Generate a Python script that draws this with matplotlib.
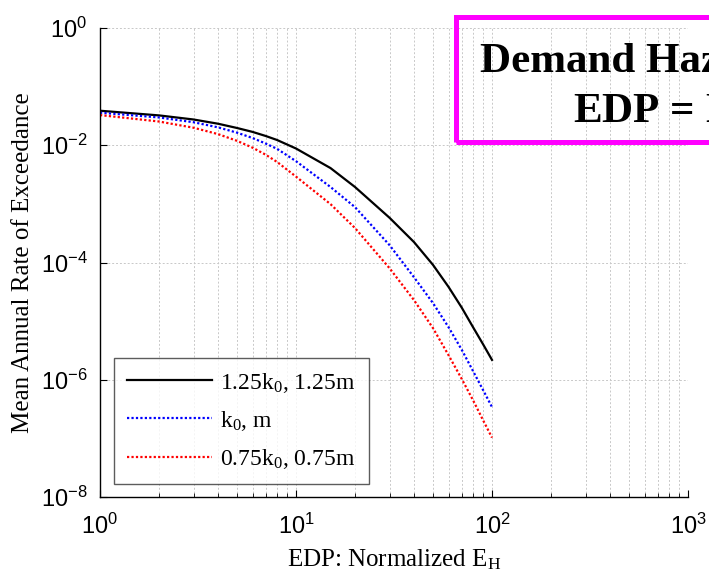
import matplotlib
matplotlib.use("Agg")
import matplotlib.pyplot as plt
from matplotlib.patches import Rectangle
from matplotlib.ticker import LogLocator, NullLocator, NullFormatter
from matplotlib.font_manager import FontProperties

# Normalized hysteretic energy demand (EDP)
edp = [1, 2, 3, 4, 5, 6, 7, 8, 10, 15, 20, 30, 40, 50, 60, 70, 80, 90, 100]

# Mean annual rate of exceedance for each hazard-model variant
rate_125 = [3.88e-2, 3.23e-2, 2.75e-2, 2.33e-2, 1.97e-2, 1.69e-2, 1.44e-2, 1.23e-2,
            8.8e-3, 4.08e-3, 1.94e-3, 5.8e-4, 2.23e-4, 9.1e-5, 3.84e-5, 1.71e-5,
            7.9e-6, 4.04e-6, 2.18e-6]
rate_100 = [3.59e-2, 2.98e-2, 2.47e-2, 2.02e-2, 1.64e-2, 1.33e-2, 1.07e-2, 8.7e-3,
            5.35e-3, 1.94e-3, 8.8e-4, 1.98e-4, 5.6e-5, 2.03e-5, 7.9e-6, 3.27e-6,
            1.41e-6, 6.7e-7, 3.42e-7]
rate_075 = [3.27e-2, 2.54e-2, 1.99e-2, 1.55e-2, 1.19e-2, 9.1e-3, 6.9e-3, 5.2e-3,
            2.92e-3, 9.9e-4, 3.87e-4, 8.0e-5, 2.28e-5, 7.6e-6, 2.63e-6, 1.04e-6,
            4.49e-7, 2.05e-7, 1.03e-7]

labels = [r"1.25k$_0$, 1.25m", r"k$_0$, m", r"0.75k$_0$, 0.75m"]

plt.rcParams["font.family"] = ["Liberation Sans", "DejaVu Sans"]
plt.rcParams["mathtext.default"] = "regular"

W, H = 709, 584
fig = plt.figure(figsize=(W / 100, H / 100), dpi=100)
ax = fig.add_axes([100 / W, 87 / H, 588 / W, 469 / H])

dot = (0, (1, 1))
ax.plot(edp, rate_125, color="black", lw=1.6, ls="-", label=labels[0])
ax.plot(edp, rate_100, color="#0000ff", lw=1.6, ls=dot, label=labels[1])
ax.plot(edp, rate_075, color="#ff0000", lw=1.6, ls=dot, label=labels[2])

ax.set_xscale("log")
ax.set_yscale("log")
ax.set_xlim(1, 1000)
ax.set_ylim(1e-8, 1)
ax.set_yticks([1e-8, 1e-6, 1e-4, 1e-2, 1])
ax.yaxis.set_minor_locator(NullLocator())
ax.xaxis.set_minor_locator(LogLocator(base=10, subs=range(2, 10)))
ax.xaxis.set_minor_formatter(NullFormatter())

grid_kw = dict(color="#c8c8c8", lw=0.7, ls=(0, (2, 2)))
ax.grid(True, which="major", axis="both", **grid_kw)
ax.grid(True, which="minor", axis="x", **grid_kw)
ax.set_axisbelow(True)

for side in ("top", "right"):
    ax.spines[side].set_visible(False)
for side in ("left", "bottom"):
    ax.spines[side].set_color("black")
    ax.spines[side].set_linewidth(1.0)

ax.tick_params(which="major", direction="in", length=5, width=0.8,
               labelsize=17, top=False, right=False)
ax.tick_params(axis="x", which="major", pad=12)
ax.tick_params(axis="y", which="major", pad=9)
ax.tick_params(which="minor", direction="in", length=3, width=0.6,
               top=False, right=False)

serif = "Liberation Serif"
ax.set_xlabel(r"EDP: Normalized E$_H$", fontfamily=serif, fontsize=18, labelpad=6)
ax.set_ylabel("Mean Annual Rate of Exceedance", fontfamily=serif, fontsize=18,
              labelpad=5)

leg = ax.legend(loc="lower left", bbox_to_anchor=(0.024, 0.028),
                prop=FontProperties(family=serif, size=17),
                frameon=True, fancybox=False, borderaxespad=0,
                handlelength=3.6, handletextpad=0.35, labelspacing=0.6,
                borderpad=0.55)
leg.get_frame().set_edgecolor("#333333")
leg.get_frame().set_linewidth(1.0)

# Title box in the upper right of the figure
box = Rectangle((455.5 / W, 1 - 142.5 / H), (900 - 455.5) / W, 125 / H,
                transform=fig.transFigure, fill=False, edgecolor="#ff00ff",
                lw=3.6, clip_on=False, zorder=10)
fig.add_artist(box)
fig.text(480 / W, 1 - 72 / H, "Demand Hazard Curve", fontfamily=serif,
         fontweight="bold", fontsize=31, ha="left", va="baseline", zorder=11)
fig.text(573 / W, 1 - 122 / H, r"EDP = E$_H$", fontfamily=serif,
         fontweight="bold", fontsize=31, ha="left", va="baseline", zorder=11)

fig.savefig("out.png", dpi=100)
